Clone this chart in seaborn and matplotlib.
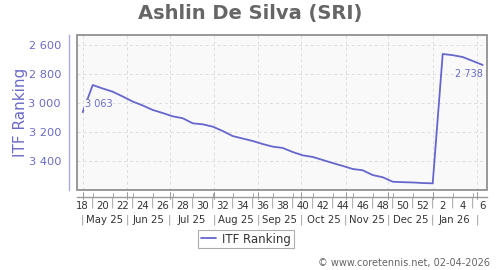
import numpy as np
import pandas as pd
import matplotlib
matplotlib.use("Agg")
import matplotlib.pyplot as plt
from matplotlib.patches import Rectangle
import seaborn as sns

# ---- data ----
start_date = "2025-05-01"
ranking = [3063, 2876, 2900, 2922, 2955, 2990, 3017, 3048, 3069, 3092,
           3105, 3140, 3147, 3163, 3193, 3228, 3245, 3262, 3283, 3301,
           3310, 3338, 3361, 3372, 3393, 3414, 3434, 3455, 3464, 3497,
           3512, 3543, 3546, 3548, 3552, 3554, 2662, 2670, 2683, 2710, 2738]
month_labels = ["May 25", "Jun 25", "Jul 25", "Aug 25", "Sep 25", "Oct 25",
                "Nov 25", "Dec 25", "Jan 26"]
month_starts = ["2025-05-01", "2025-06-01", "2025-07-01", "2025-08-01", "2025-09-01",
                "2025-10-01", "2025-11-01", "2025-12-01", "2026-01-01", "2026-02-01"]
y_ticks = [2600, 2800, 3000, 3200, 3400]
title = "Ashlin De Silva (SRI)"
series_name = "ITF Ranking"
footer = "\u00a9 www.coretennis.net, 02-04-2026"

dates = pd.date_range(start_date, periods=len(ranking), freq="7D")
df = pd.DataFrame({"date": dates, series_name: ranking})

LINE = "#6666cc"
PURPLE = "#6b6bc8"


def fmt(v):
    return f"{v:,}".replace(",", " ")


sns.set_style("white")
plt.rcParams["font.family"] = ["DejaVu Sans"]

fig = plt.figure(figsize=(5, 2.7), dpi=100)
ax = fig.add_axes([77 / 500, 1 - 190 / 270, (487 - 77) / 500, (190 - 35) / 270])
ax.set_facecolor("#f9f9f9")

sns.lineplot(data=df, x="date", y=series_name, ax=ax, color=LINE, linewidth=1.3,
             label=series_name, legend=False)

x0 = dates[0]
ax.set_xlim(x0 - pd.Timedelta(days=4), x0 + pd.Timedelta(days=283))
ax.set_ylim(3600, 2531)

# grid
for y in y_ticks:
    ax.axhline(y, color="#dddddd", lw=0.7, ls=(0, (3, 3)), zorder=0)
for m in month_starts:
    ax.axvline(pd.Timestamp(m), color="#dddddd", lw=0.7, ls=(0, (3, 3)), zorder=0)

# frame
ax.add_patch(Rectangle((0, 0), 1, 1, transform=ax.transAxes, fill=False,
                       edgecolor="#888888", lw=1.2, clip_on=False, zorder=5))
for s in ["top", "right"]:
    ax.spines[s].set_visible(False)
ax.spines["left"].set_position(("outward", 6))
ax.spines["bottom"].set_position(("outward", 5))
ax.spines["left"].set_color("#aaaadd")
ax.spines["bottom"].set_color("#999999")
ax.spines["left"].set_linewidth(1)
ax.spines["bottom"].set_linewidth(1)

# y axis
ax.set_yticks(y_ticks)
ax.set_yticklabels([fmt(v) for v in y_ticks])
ax.tick_params(axis="y", colors=PURPLE, labelsize=8.2, length=4, width=0.8, pad=1.5)
ax.tick_params(axis="y", which="both", color="#aaaadd")
ax.set_ylabel(series_name, color=PURPLE, fontsize=11)
ax.yaxis.set_label_coords(-0.12, 0.5)

# x axis: week labels every 2 weeks
wk_pos = dates[::2]
ax.set_xticks(wk_pos)
ax.set_xticklabels([str(d.isocalendar()[1]) for d in wk_pos])
ax.tick_params(axis="x", colors="#999999", labelcolor="#333333", labelsize=7.3,
               length=0, pad=3)
ax.set_xlabel("")
trans = ax.get_xaxis_transform()
# small ticks at odd weeks, separators
for d in dates[1::2]:
    ax.plot([d, d], [-0.045, -0.02], transform=trans, color="#999999", lw=0.6,
            clip_on=False)
    ax.text(d, -0.08, "|", transform=trans, ha="center", va="center",
            fontsize=7.3, color="#999999")
# month boundaries: ticks and separators
for m in month_starts:
    mt = pd.Timestamp(m)
    ax.plot([mt, mt], [-0.055, -0.015], transform=trans, color="#999999", lw=0.7,
            clip_on=False)
    ax.text(mt, -0.195, "|", transform=trans, ha="center", va="center",
            fontsize=7.3, color="#999999")
for i, lab in enumerate(month_labels):
    a = pd.Timestamp(month_starts[i])
    b = pd.Timestamp(month_starts[i + 1])
    ax.text(a + (b - a) / 2, -0.195, lab, transform=trans, ha="center", va="center",
            fontsize=7.3, color="#333333")

# data labels
ax.text(dates[0] + pd.Timedelta(days=1.4), ranking[0] - 53, fmt(ranking[0]),
        fontsize=7, color=PURPLE, ha="left", va="center", zorder=4,
        bbox=dict(facecolor="#f9f9f9", edgecolor="none", pad=0.5))
ax.text(dates[-1], ranking[-1] + 64, fmt(ranking[-1]),
        fontsize=7, color=PURPLE, ha="right", va="center", zorder=4)

# title
fig.text(0.5, 1 - 14 / 270, title, ha="center", va="center", fontsize=14,
         fontweight="bold", color="#666666")

# legend
leg = fig.legend(handles=ax.get_lines()[:1], labels=[series_name], loc="center",
                 bbox_to_anchor=(246 / 500, 1 - 239 / 270), frameon=True,
                 fancybox=False, fontsize=8.5, handlelength=1.3, handletextpad=0.5,
                 borderpad=0.25, labelcolor="#333333")
leg.get_frame().set_edgecolor("#999999")
leg.get_frame().set_linewidth(0.8)

fig.text(490 / 500, 1 - 263 / 270, footer, ha="right", va="center", fontsize=7,
         color="#666666")

fig.savefig("out.png", dpi=100)
